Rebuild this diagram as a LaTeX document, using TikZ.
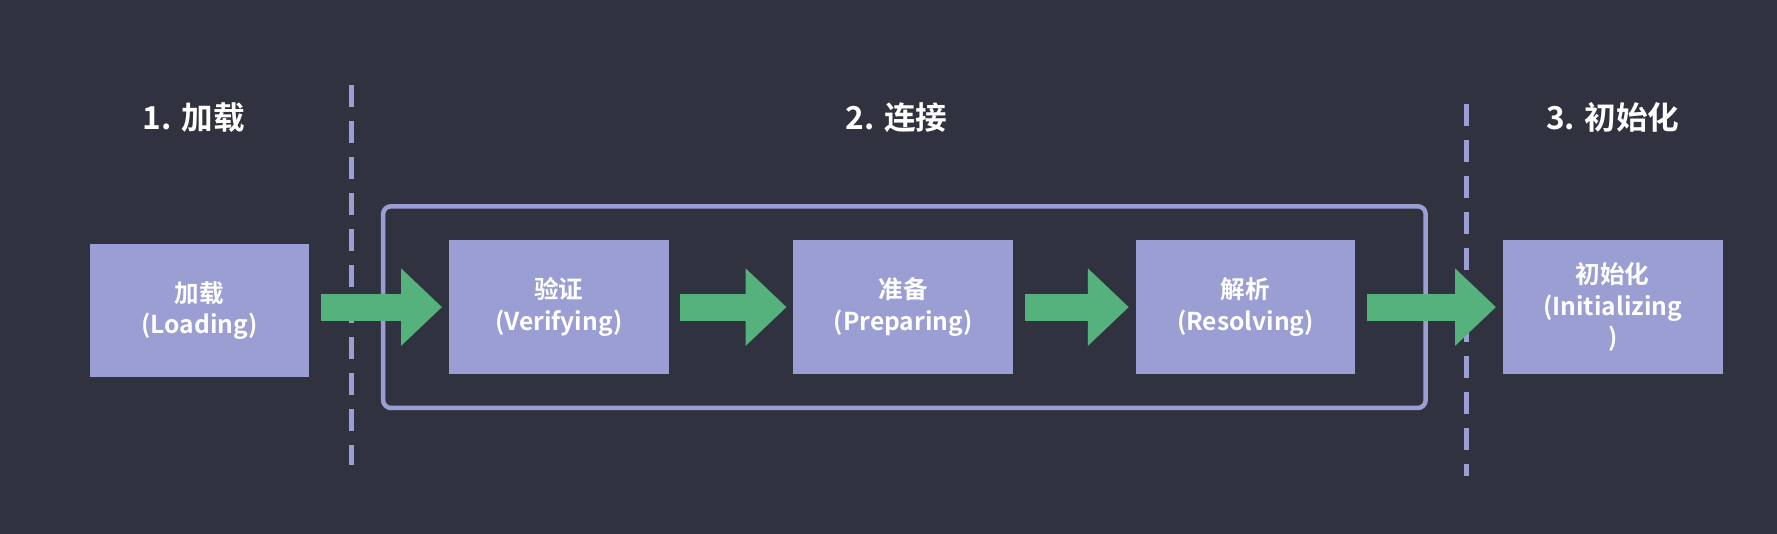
\documentclass[tikz,border=0pt]{standalone}
\usepackage{fontspec}
\newfontfamily\cjk{Noto Sans CJK SC}[BoldFont={Noto Sans CJK SC Bold}]
\usetikzlibrary{arrows.meta}
\definecolor{bgdark}{HTML}{31323F}
\definecolor{boxblue}{HTML}{9A9ED3}
\definecolor{arrgreen}{HTML}{55B27D}
\tikzset{
  stage/.style={rectangle,fill=boxblue,minimum width=2.2cm,minimum height=1.34cm,
    text=white,align=center,font=\cjk\bfseries\fontsize{7pt}{9pt}\selectfont,inner sep=2pt},
  title/.style={text=white,font=\cjk\bfseries\fontsize{9pt}{11pt}\selectfont},
  flow/.style={arrgreen,line width=0.27cm,-{Triangle[width=0.75cm,length=0.41cm]},
    shorten <=0.11cm,shorten >=0.06cm},
  divider/.style={boxblue,line width=0.055cm,dash pattern=on 0.22cm off 0.14cm}
}
\begin{document}
\begin{tikzpicture}[x=0.011333cm,y=-0.011333cm]
\fill[bgdark] (0,0) rectangle (1568,471);
\useasboundingbox (0,0) rectangle (1568,471);

% phase titles
\node[title] (t1) at (171,104) {1. 加载};
\node[title] (t2) at (791,104) {2. 连接};
\node[title] (t3) at (1423,104) {3. 初始化};

% dividers
\draw[divider] (310,75) -- (310,410);
\draw[divider] (1294,92) -- (1294,420);

% linking frame
\draw[boxblue,line width=0.045cm,rounded corners=0.08cm] (338,182) rectangle (1258,360);

% stages
\node[stage] (load) at (176,274) {加载\\(Loading)};
\node[stage] (verify) at (493,271) {验证\\(Verifying)};
\node[stage] (prep) at (797,271) {准备\\(Preparing)};
\node[stage] (resolve) at (1099,271) {解析\\(Resolving)};
\node[stage,text width=2.05cm] (init) at (1423,271) {初始化\\(Initializing\\)};

% flow arrows
\draw[flow] (load.east |- 0,271) -- (verify.west);
\draw[flow] (verify) -- (prep);
\draw[flow] (prep) -- (resolve);
\draw[flow] (resolve) -- (init);
\end{tikzpicture}
\end{document}
